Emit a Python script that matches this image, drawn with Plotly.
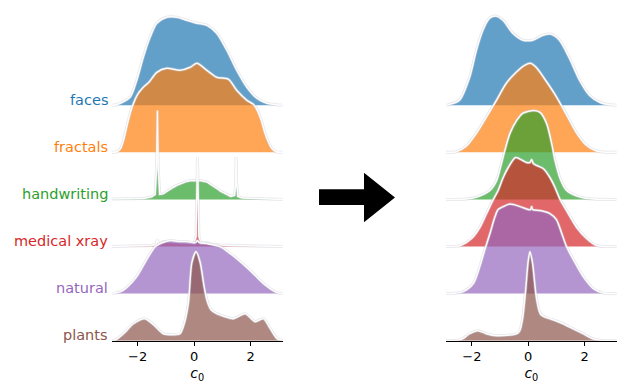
import plotly.graph_objects as go

# ---------------- data (densities, arbitrary units) ----------------
names = ["faces", "fractals", "handwriting", "medical xray", "natural", "plants"]
colors = ["#1f77b4", "#ff7f0e", "#2ca02c", "#d62728", "#9467bd", "#8c564b"]
x_ticks = [-2, 0, 2]
x_range = [-2.92, 3.14]

# ---- before (left panel)
faces_b_x = [-2.92, -2.74, -2.27, -2.03, -1.80, -1.56, -1.32, -0.97, -0.61, -0.26, 0.10, 0.45, 0.80, 1.16, 1.51, 1.87, 2.22, 2.58, 2.9, 3.14]
faces_b = [0, 0.5, 8, 25, 48, 68, 82, 88, 88, 85, 82, 80, 72, 55, 35, 18, 7, 2, 0.5, 0]

fractals_b_x = [-2.92, -2.73, -2.6, -2.5, -2.33, -2.2, -2.0, -1.8, -1.6, -1.32, -0.97, -0.50, -0.14, 0.10, 0.45, 0.80, 1.22, 1.51, 1.87, 2.10, 2.22, 2.38, 2.5, 2.62, 2.75, 2.9, 3.14]
fractals_b = [0, 0.5, 4, 12, 32, 45, 58, 65, 70, 80, 84, 82, 85, 89, 82, 75, 73, 62, 52, 48, 43, 32, 20, 11, 4, 0.5, 0]

handwriting_b_x = [-2.92, -2.4, -1.8, -1.5, -1.38, -1.33, -1.30, -1.27, -1.22, -1.1, -0.97, -0.8, -0.61, -0.45, -0.26, -0.1, 0.10, 0.25, 0.45, 0.6, 0.80, 0.95, 1.16, 1.30, 1.44, 1.47, 1.49, 1.51, 1.55, 1.7, 2.2, 2.8, 3.14]
handwriting_b = [0.3, 0.5, 1, 2.5, 5, 30, 89, 30, 5, 5.5, 8, 11, 14, 16, 18, 18.8, 19, 18.7, 17.5, 15, 11, 8, 4.5, 3, 4, 15, 42, 15, 3, 1.5, 0.8, 0.3, 0]

medical_b_x = [-2.92, -2.0, -1.5, -1.34, -1.30, -1.26, -1.1, -0.8, -0.5, -0.2, 0.0, 0.07, 0.10, 0.12, 0.14, 0.17, 0.25, 0.45, 0.6, 0.9, 1.3, 1.8, 2.5, 3.14]
medical_b = [0, 0.5, 1, 2, 7, 2, 5, 4.5, 4, 3, 3, 10, 60, 89, 60, 10, 3, 4, 2.5, 1.5, 1, 0.8, 0.3, 0]

natural_b_x = [-2.92, -2.8, -2.6, -2.39, -2.03, -1.68, -1.38, -1.2, -0.85, -0.5, -0.26, 0.05, 0.12, 0.19, 0.45, 0.92, 1.28, 1.51, 1.99, 2.46, 2.93, 3.14]
natural_b = [0, 0.5, 2, 6, 17, 34, 47, 50, 53, 52, 52, 51, 53, 51, 50, 47, 40, 35, 23, 10, 1, 0]

plants_b_x = [-2.92, -2.8, -2.5, -2.15, -1.75, -1.44, -1.09, -0.74, -0.5, -0.34, -0.2, -0.08, 0.07, 0.21, 0.35, 0.45, 0.6, 0.8, 1.1, 1.39, 1.81, 2.16, 2.46, 2.70, 2.94, 3.14]
plants_b = [0, 0.5, 7, 17, 22, 16, 7, 6, 7, 18, 38, 78, 89, 79, 55, 41, 31, 27, 24, 22, 27, 19, 22, 12, 2, 0]

# ---- after (right panel)
faces_a_x = [-2.92, -2.85, -2.44, -2.08, -1.84, -1.61, -1.37, -1.13, -0.90, -0.55, -0.19, 0.16, 0.52, 0.82, 1.11, 1.46, 1.82, 2.17, 2.53, 2.88, 3.14]
faces_a = [0, 0.3, 5, 28, 55, 75, 87, 89, 85, 72, 65, 65, 70, 71, 65, 47, 25, 10, 3, 0.5, 0]

fractals_a_x = [-2.92, -2.55, -2.20, -1.84, -1.49, -1.13, -0.78, -0.43, -0.13, 0.07, 0.28, 0.64, 0.99, 1.35, 1.70, 2.06, 2.40, 2.65, 3.14]
fractals_a = [0, 0.5, 6, 19, 35, 52, 69, 80, 87, 89, 85, 71, 56, 38, 20, 7, 1.5, 0.3, 0]

handwriting_a_x = [-2.92, -2.2, -1.83, -1.36, -1.12, -0.95, -0.83, -0.65, -0.41, -0.2, 0.0, 0.2, 0.42, 0.65, 0.83, 0.95, 1.13, 1.36, 1.84, 2.3, 3.14]
handwriting_a = [0, 0.3, 2.3, 9, 19, 36, 49, 66, 79, 86, 88, 89, 87, 76, 56, 39, 21, 9, 2.3, 0.3, 0]

medical_a_x = [-2.92, -2.4, -2.01, -1.72, -1.48, -1.24, -1.07, -0.89, -0.71, -0.45, -0.2, -0.06, 0.06, 0.12, 0.18, 0.30, 0.53, 0.77, 0.95, 1.13, 1.42, 1.72, 2.07, 2.42, 3.14]
medical_a = [0, 1, 8, 19, 33, 47, 56, 69, 79, 89, 86, 84, 84, 87, 83, 81, 78, 69, 59, 47, 33, 19, 8, 1, 0]

natural_a_x = [-2.92, -2.66, -2.31, -1.95, -1.72, -1.54, -1.36, -1.18, -1.07, -0.89, -0.65, -0.29, 0.0, 0.08, 0.12, 0.16, 0.42, 0.77, 1.0, 1.19, 1.36, 1.6, 1.95, 2.31, 2.66, 3.14]
natural_a = [0, 0.3, 2, 10, 27, 44, 60, 77, 84, 87, 89.5, 87, 84, 84, 87, 84, 83, 80, 74, 60, 47, 34, 17, 5, 0.5, 0]

plants_a_x = [-2.92, -2.5, -2.32, -2.08, -1.79, -1.49, -1.13, -0.55, -0.4, -0.3, -0.2, -0.1, 0.0, 0.06, 0.15, 0.3, 0.45, 0.87, 1.23, 1.58, 1.94, 2.29, 2.6, 3.14]
plants_a = [0, 0.5, 2, 7, 10, 7, 5, 6, 7, 10, 22, 48, 80, 89, 78, 41, 26, 21, 17, 12, 7, 2, 0.3, 0]

before = [(faces_b_x, faces_b), (fractals_b_x, fractals_b), (handwriting_b_x, handwriting_b),
          (medical_b_x, medical_b), (natural_b_x, natural_b), (plants_b_x, plants_b)]
after = [(faces_a_x, faces_a), (fractals_a_x, fractals_a), (handwriting_a_x, handwriting_a),
         (medical_a_x, medical_a), (natural_a_x, natural_a), (plants_a_x, plants_a)]
spiky_before = {"handwriting", "medical xray"}

# ---------------- style ----------------
W, H = 621, 387
SCALE = 1 / 47.1        # density units -> ridge spacing units
FILL_ALPHA = 0.7
FONT = "DejaVu Sans"


def rgba(hex_color, a):
    h = hex_color.lstrip("#")
    r, g, b = int(h[0:2], 16), int(h[2:4], 16), int(h[4:6], 16)
    return f"rgba({r},{g},{b},{a})"


fig = go.Figure()
n = len(names)


def add_panel(series, xa, ya, spiky):
    for i, (name, col, (xs, vals)) in enumerate(zip(names, colors, series)):
        base = n - 1 - i
        ys = [base + v * SCALE for v in vals]
        shape = "linear" if name in spiky else "spline"
        # baseline (invisible) for tonexty fill
        fig.add_trace(go.Scatter(x=[xs[0], xs[-1]], y=[base, base], mode="lines",
                                 line=dict(width=0, color="rgba(0,0,0,0)"),
                                 xaxis=xa, yaxis=ya, showlegend=False, hoverinfo="skip"))
        fig.add_trace(go.Scatter(x=xs, y=ys, mode="lines", fill="tonexty",
                                 fillcolor=rgba(col, FILL_ALPHA),
                                 line=dict(width=0, color="rgba(0,0,0,0)", shape=shape, smoothing=0.8),
                                 xaxis=xa, yaxis=ya, showlegend=False, hoverinfo="skip"))
        # soft halo + white edge
        fig.add_trace(go.Scatter(x=xs, y=ys, mode="lines",
                                 line=dict(width=3, color="rgba(200,200,210,0.45)", shape=shape, smoothing=0.8),
                                 xaxis=xa, yaxis=ya, showlegend=False, hoverinfo="skip"))
        fig.add_trace(go.Scatter(x=xs, y=ys, mode="lines",
                                 line=dict(width=1.5, color="rgba(255,255,255,0.95)", shape=shape, smoothing=0.8),
                                 xaxis=xa, yaxis=ya, showlegend=False, hoverinfo="skip"))


add_panel(before, "x", "y", spiky_before)
add_panel(after, "x2", "y2", set())

# row labels on the left panel
for i, (name, col) in enumerate(zip(names, colors)):
    fig.add_annotation(text=name, x=110 / W, xref="paper", y=n - 1 - i, yref="y",
                       xanchor="right", yanchor="bottom", yshift=-4.5, showarrow=False,
                       font=dict(family=FONT, size=14.5, color=col))

# arrow between the panels (decoration)
def P(px, py):
    return f"{px / W:.5f},{1 - py / H:.5f}"

arrow_path = ("M " + P(319, 189.3) + " L " + P(364, 189.3) + " L " + P(364, 172.7) +
              " L " + P(395, 197.5) + " L " + P(364, 222.3) + " L " + P(364, 205) +
              " L " + P(319, 205) + " Z")
fig.add_shape(type="path", path=arrow_path, xref="paper", yref="paper",
              fillcolor="black", line=dict(width=0))

y_top = 340.7 / 47.1
ydom = [1 - 340.7 / H, 1.0]
xcommon = dict(range=x_range, tickvals=x_ticks, showline=True, linecolor="black", linewidth=1,
               ticks="outside", ticklen=4, tickwidth=1, tickcolor="black",
               showgrid=False, zeroline=False,
               tickfont=dict(family=FONT, size=13, color="black"),
               title=dict(text="<i>c</i><sub>0</sub>", font=dict(family=FONT, size=14, color="black"),
                          standoff=4))
ycommon = dict(range=[0, y_top], domain=ydom, visible=False, showgrid=False, zeroline=False)

fig.update_layout(
    width=W, height=H,
    margin=dict(l=0, r=0, t=0, b=0),
    paper_bgcolor="white", plot_bgcolor="white",
    xaxis=dict(domain=[111.7 / W, 282.7 / W], anchor="y", **xcommon),
    yaxis=dict(anchor="x", **ycommon),
    xaxis2=dict(domain=[446 / W, 616.7 / W], anchor="y2", **xcommon),
    yaxis2=dict(anchor="x2", **ycommon),
    font=dict(family=FONT),
)

fig.write_html("out.html")
